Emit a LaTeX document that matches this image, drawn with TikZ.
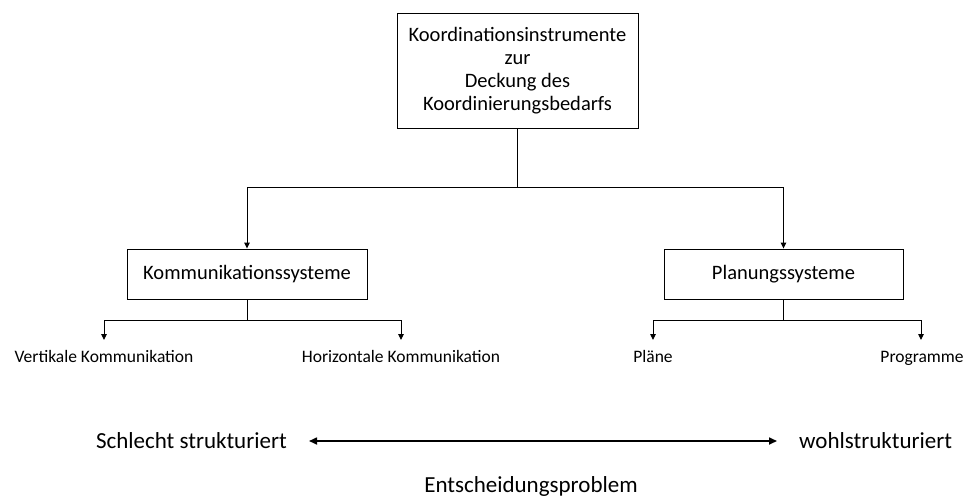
\documentclass[tikz,border=0pt]{standalone}
\usepackage{fontspec}
\setmainfont{Carlito}
\usetikzlibrary{arrows.meta}
\begin{document}
\begin{tikzpicture}[x=1pt,y=-1pt,
  box/.style={draw, line width=0.9pt, inner sep=0pt, align=center},
  lbl/.style={inner sep=0pt, anchor=base, font=\fontsize{17.5}{20}\selectfont},
  big/.style={inner sep=0pt, font=\fontsize{23}{26}\selectfont},
  conn/.style={line width=0.9pt},
  arr/.style={line width=0.9pt, -{Triangle[length=6pt,width=5.5pt]}},
  dbl/.style={line width=1.6pt, {Triangle[length=8pt,width=7pt]}-{Triangle[length=8pt,width=7pt]}}]
\useasboundingbox (0,0) rectangle (966,498);
% top box
\node[box, minimum width=241pt, minimum height=115pt, font=\fontsize{20.5}{23}\selectfont] (top) at (517.5,70.5)
  {Koordinationsinstrumente\\zur\\Deckung des\\Koordinierungsbedarfs};
% second level
\node[box, minimum width=240pt, minimum height=50pt, font=\fontsize{20.5}{23}\selectfont] (komm) at (247,274) {Kommunikationssysteme};
\node[box, minimum width=239pt, minimum height=50pt, font=\fontsize{20.5}{23}\selectfont] (plan) at (783.5,274) {Planungssysteme};
% top branching
\coordinate (tj) at (517.5,187);
\draw[conn] (top.south) -- (tj);
\draw[arr] (tj) -| (komm.north);
\draw[arr] (tj) -| (plan.north);
% leaves
\node[lbl] (vert) at (104,362) {Vertikale Kommunikation};
\node[lbl] (hori) at (401,362) {Horizontale Kommunikation};
\node[lbl] (plae) at (653,362) {Pläne};
\node[lbl] (prog) at (922,362) {Programme};
\coordinate (kj) at (247,320);
\coordinate (pj) at (783.5,320);
\coordinate (ve) at (104,340);
\coordinate (he) at (401,340);
\coordinate (pe) at (653,340);
\coordinate (re) at (921,340);
\draw[conn] (komm.south) -- (kj);
\draw[conn] (plan.south) -- (pj);
\draw[arr] (kj) -| (ve);
\draw[arr] (kj) -| (he);
\draw[arr] (pj) -| (pe);
\draw[arr] (pj) -| (re);
% scale of decision problem
\node[big, anchor=east] (schl) at (287,441) {Schlecht strukturiert};
\node[big, anchor=west] (wohl) at (799,441) {wohlstrukturiert};
\node[big] (ents) at (531,486) {Entscheidungsproblem};
\draw[dbl] ([xshift=22pt]schl.east) -- ([xshift=-22pt]wohl.west);
\end{tikzpicture}
\end{document}
